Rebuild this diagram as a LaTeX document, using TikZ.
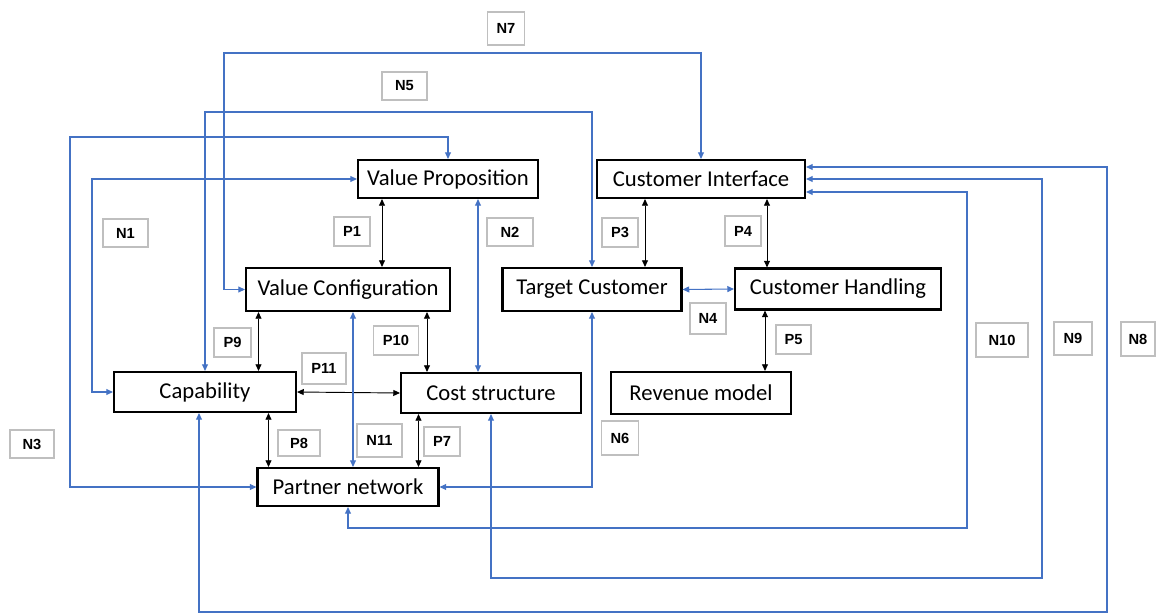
\documentclass[tikz,border=0pt]{standalone}
\usepackage{fontspec}
\setmainfont{Carlito}
\newfontfamily\labfont{Liberation Sans}
\usetikzlibrary{arrows.meta,calc}
\definecolor{lnblue}{HTML}{4472C4}
\definecolor{lbgray}{HTML}{BFBFBF}
\newcommand{\lbl}[6]{\node[lab,minimum width=#4*0.75pt,minimum height=#5*0.75pt] (#1) at (#2,#3) {#6};}
\newcommand{\bx}[6]{\node[box,minimum width=#4*0.75pt,minimum height=#5*0.75pt] (#1) at (#2,#3) {#6};}
\begin{document}
\begin{tikzpicture}[x=0.75pt,y=-0.75pt,
  box/.style={draw=black,line width=1.6pt,fill=white,inner sep=0pt,font=\fontsize{17}{19}\selectfont},
  lab/.style={draw=lbgray,line width=1.1pt,fill=white,inner sep=0pt,font=\labfont\bfseries\fontsize{11}{13}\selectfont},
  tip/.tip={Triangle[length=5pt,width=4.5pt]},
  barr/.style={draw=lnblue,line width=0.8pt,tip-tip,color=lnblue},
  karr/.style={draw=black,line width=0.7pt,tip-tip}]
\useasboundingbox (0,0) rectangle (1156,613);
% main boxes
\bx{VP}{448}{179}{180}{38}{Value Proposition}
\bx{CI}{701}{179}{208}{38}{Customer Interface}
\bx{VC}{348}{289.5}{204}{43}{Value Configuration}
\bx{TC}{592}{289.5}{179}{43}{Target Customer}
\bx{CH}{838}{289}{206}{41}{Customer Handling}
\bx{Cap}{205}{392}{182}{40}{Capability}
\bx{CS}{491}{393}{180}{40}{Cost structure}
\bx{RM}{701}{393}{180}{42}{Revenue model}
\bx{PN}{348}{487}{181}{38}{Partner network}
% labels
\lbl{lN7}{506}{28.5}{37}{33}{N7}
\lbl{lN5}{404.5}{86}{45}{28}{N5}
\lbl{lN1}{125.5}{233}{45}{28}{N1}
\lbl{lP1}{352}{231.5}{36}{29}{P1}
\lbl{lN2}{510}{232}{46}{28}{N2}
\lbl{lP3}{620}{232.5}{36}{29}{P3}
\lbl{lP4}{743}{231}{36}{30}{P4}
\lbl{lN4}{708}{318.5}{36}{31}{N4}
\lbl{lP5}{793.5}{339.5}{35}{29}{P5}
\lbl{lN10}{1002}{340}{52}{34}{N10}
\lbl{lN9}{1073}{338.5}{38}{33}{N9}
\lbl{lN8}{1138}{339}{34}{34}{N8}
\lbl{lN6}{620}{438}{37}{34}{N6}
\lbl{lP9}{232.5}{342.5}{37}{29}{P9}
\lbl{lP10}{396}{340.5}{45}{29}{P10}
\lbl{lP11}{324}{368.5}{44}{31}{P11}
\lbl{lN3}{32}{444}{44}{28}{N3}
\lbl{lP8}{299}{443}{42}{26}{P8}
\lbl{lN11}{379.5}{440.5}{45}{33}{N11}
\lbl{lP7}{442}{441.5}{36}{29}{P7}
% helper coordinates
\coordinate (xP1) at (382,0);
\coordinate (xP3) at (645,0);
\coordinate (xP4) at (767,0);
\coordinate (xP5) at (765,0);
\coordinate (xP9) at (258.5,0);
\coordinate (xP10) at (427,0);
\coordinate (xP8) at (268.5,0);
\coordinate (xP7) at (418.5,0);
\coordinate (xN2) at (478,0);
\coordinate (xN11) at (353,0);
\coordinate (xN8) at (199,0);
\coordinate (yN10) at (0,192);
\coordinate (yN8) at (0,167);
% black connectors
\draw[karr] (xP1 |- VP.south) -- (xP1 |- VC.north);
\draw[karr] (xP3 |- CI.south) -- (xP3 |- TC.north);
\draw[karr] (xP4 |- CI.south) -- (xP4 |- CH.north);
\draw[karr] (xP5 |- CH.south) -- (xP5 |- RM.north);
\draw[karr] (xP9 |- VC.south) -- (xP9 |- Cap.north);
\draw[karr] (xP10 |- VC.south) -- (xP10 |- CS.north);
\draw[karr] (Cap.east) -- (CS.west);
\draw[karr] (xP8 |- Cap.south) -- (xP8 |- PN.north);
\draw[karr] (xP7 |- CS.south) -- (xP7 |- PN.north);
% blue connectors
\draw[barr] (VC.west) -| (224,53) -| (CI.north);
\draw[barr] (Cap.north) |- (400,112) -| (TC.north);
\draw[barr] (VP.north) |- (70,137) |- (PN.west);
\draw[barr] (VP.west) -| (92,300) |- (Cap.west);
\draw[barr] (xN2 |- VP.south) -- (xN2 |- CS.north);
\draw[barr] (xN11 |- VC.south) -- (xN11 |- PN.north);
\draw[barr] (TC.south) |- (PN.east);
\draw[barr] (TC.east) -- (CH.west);
\draw[barr] (yN10 -| CI.east) -| (967,528) -| (PN.south);
\draw[barr] (CI.east) -| (1042,578) -| (CS.south);
\draw[barr] (yN8 -| CI.east) -| (1107,612) -| (xN8 |- Cap.south);
\end{tikzpicture}
\end{document}
